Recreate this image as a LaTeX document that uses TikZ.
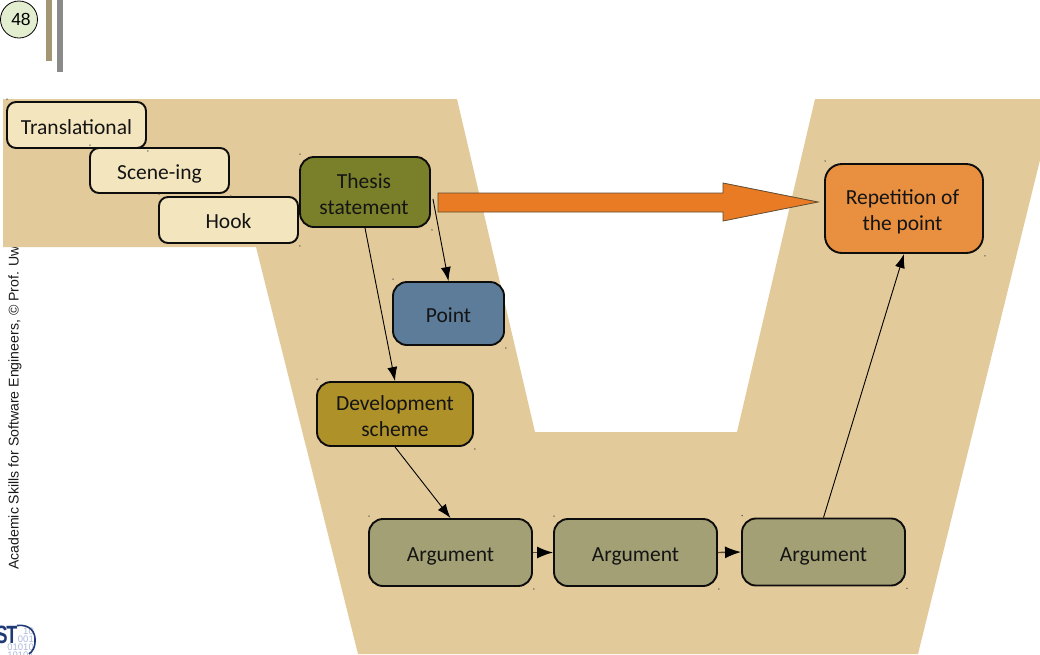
\documentclass[tikz,border=0pt]{standalone}
\usepackage{fontspec}
\setmainfont{Carlito}
\newfontfamily\lib{Liberation Sans}
\usetikzlibrary{calc,arrows.meta}
\definecolor{bandc}{HTML}{E3CA9A}
\definecolor{lightc}{HTML}{F3E5BE}
\definecolor{thesisc}{HTML}{7A8029}
\definecolor{pointc}{HTML}{5C7C99}
\definecolor{devc}{HTML}{AE9129}
\definecolor{argc}{HTML}{A3A075}
\definecolor{repc}{HTML}{E88F40}
\definecolor{arrc}{HTML}{E97B24}
\definecolor{arredge}{HTML}{5F4B32}
\definecolor{numc}{HTML}{E3EED0}
\definecolor{tanbar}{HTML}{A39672}
\definecolor{graybar}{HTML}{8A8A8A}
\definecolor{logoc}{HTML}{1F3A77}
\definecolor{bitc}{HTML}{AEB8DA}
\newcommand{\oneL}[1]{\raisebox{-9pt}[0pt][0pt]{\makebox[0pt]{#1}}}
\newcommand{\twoL}[2]{\raisebox{4pt}[0pt][0pt]{\makebox[0pt]{#1}}\raisebox{-22pt}[0pt][0pt]{\makebox[0pt]{#2}}}
\tikzset{
  x=1pt,y=-1pt,
  boxstyle/.style={draw=black!95,line width=1.9pt,rounded corners=14pt,inner sep=0pt,
    text=black!92,font=\fontsize{21.5}{26}\selectfont},
  lightbox/.style={boxstyle,rounded corners=9pt,fill=lightc,minimum width=139pt},
  link/.style={draw=black,line width=0.9pt,-{Latex[length=14pt,width=10pt]}},
  shortlink/.style={draw=arredge,line width=1.4pt,-{Latex[length=16pt,width=12pt,color=black]}},
  handle/.style={fill=black!70,inner sep=0pt,minimum size=1.5pt,circle},
}
\begin{document}
\begin{tikzpicture}
\useasboundingbox (0,0) rectangle (1040,654);
% footer text, partly hidden by the band
\node[rotate=90,anchor=west,inner sep=0pt,font=\lib\fontsize{14.1}{16}\selectfont,text=black!90] (foot) at (15,570)
  {Academic Skills for Software Engineers, © Prof. Uwe};
% band
\fill[bandc] (3,99) -- (457,99) -- (535,432) -- (737,432) -- (815,99) -- (1040,99) -- (1040,160)
  -- (918,654) -- (358,654) -- (256,247) -- (3,247) -- cycle;
% page number and bars
\node[circle,draw=black,line width=0.8pt,fill=numc,minimum size=37pt,inner sep=0pt,font=\lib\fontsize{17.5}{20}\selectfont] (num) at (19,19.5) {\kern4pt 48};
\fill[tanbar] (46,0) rectangle (52,61);
\fill[graybar] (57,0) rectangle (63,72);
% logo
\begin{scope}
\clip (0,600) rectangle (60,654);
\node[inner sep=0pt,font=\lib\fontsize{9.5}{8}\selectfont,text=bitc,align=right,anchor=north east] (bits) at (34,627.5) {10\\001\\01010\\10101};
\draw[logoc,line width=1.6pt] (17,625.5) .. controls (30,624) and (36,632) .. (35,642) .. controls (35,647) and (33,651) .. (29,654);
\node[inner sep=0pt,font=\lib\bfseries\fontsize{25}{25}\selectfont,text=logoc,anchor=east] (stlogo) at (17.5,634.5) {\scalebox{0.72}[1]{S\kern-2ptT}};
\end{scope}
% boxes
\node[lightbox,minimum height=46pt] (trans) at (76.5,125) {\oneL{Translational}};
\node[lightbox,minimum height=45pt] (scene) at (159.5,170.5) {\oneL{Scene-ing}};
\node[lightbox,minimum height=46pt] (hook) at (228.5,220) {\raisebox{1pt}{\oneL{Hook}}};
\node[boxstyle,fill=thesisc,minimum width=130pt,minimum height=70pt] (thesis) at (365,192) {\kern-2pt\twoL{Thesis}{statement}};
\node[boxstyle,fill=pointc,minimum width=111pt,minimum height=63pt] (point) at (448.5,313.5) {\oneL{Point}};
\node[boxstyle,fill=devc,minimum width=156pt,minimum height=64pt] (dev) at (395,414) {\twoL{Development}{scheme}};
\node[boxstyle,fill=argc,minimum width=163pt,minimum height=67pt] (arga) at (450.5,552.5) {\oneL{Argument}};
\node[boxstyle,fill=argc,minimum width=163pt,minimum height=67pt] (argb) at (635.5,552.5) {\oneL{Argument}};
\node[boxstyle,fill=argc,minimum width=163pt,minimum height=67pt] (argc) at (823.5,552) {\oneL{Argument}};
\node[boxstyle,rounded corners=17pt,fill=repc,minimum width=158pt,minimum height=89pt] (rep) at (904,208.5) {\kern-3pt\twoL{Repetition of}{the point}};
% selection handles
\foreach \n in {trans,scene,hook,thesis,point,dev,arga,argb,argc,rep}{
  \node[handle] (h1\n) at ($(\n.north west)+(1,-2)$) {};
  \node[handle] (h2\n) at ($(\n.south east)+(1,2)$) {};
}
% connectors
\draw[link] (thesis.south) -- (dev.north);
\draw[link] ($(thesis.south east)+(2,-29)$) -- (point.north);
\draw[link] (dev.south) -- (arga.north);
\draw[link] (argc.north) -- (rep.south);
\draw[shortlink] (arga.east) -- (argb.west);
\draw[shortlink] (argb.east) -- (argc.west);
% big arrow
\draw[draw=arredge,line width=0.8pt,fill=arrc] (438,193) -- (723,193) -- (723,183) -- (818,202) -- (723,221) -- (723,212) -- (438,212) -- cycle;
\end{tikzpicture}
\end{document}
